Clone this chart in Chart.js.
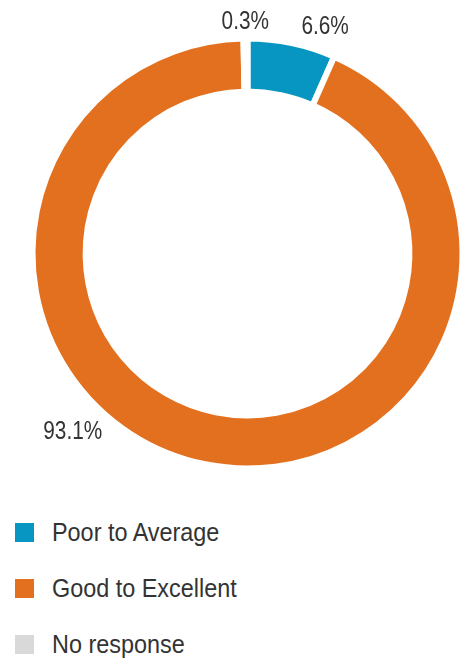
<!DOCTYPE html>
<html>
<head>
<meta charset="utf-8">
<script src="https://cdn.jsdelivr.net/npm/chart.js@4.4.1/dist/chart.umd.min.js"></script>
<style>
    html, body { margin: 0; padding: 0; background: #ffffff; }
    body { width: 468px; height: 661px; position: relative; overflow: hidden; }
    #chartBox { position: absolute; left: 0; top: 0; width: 468px; height: 480px; }
    #legend { position: absolute; left: 15px; top: 504px; }
    .item { display: flex; align-items: center; height: 56px; }
    .swatch { width: 19px; height: 19px; margin-right: 18px; flex: none; }
    .label { display: inline-block; font-family: "Liberation Sans", Arial, sans-serif;
             font-size: 26px; color: #333333; white-space: nowrap;
             transform: scaleX(0.9); transform-origin: left center; }
</style>
</head>
<body>
<div id="chartBox"><canvas id="ratingChart"></canvas></div>
<div id="legend"></div>
<script>
// Chart data
const categories = ['Poor to Average', 'Good to Excellent', 'No response'];
const shares = [6.6, 93.1, 0.3];
const colors = ['#0796c1', '#e3701f', '#d9d9d9'];

// where each percentage label sits, relative to the middle of its slice
const labelPlacement = [
    { turn: 7, gap: 28 },
    { turn: 33, gap: 38 },
    { turn: 0, gap: 20 }
];

/**
 * Draws the percentage text outside each slice (narrowed like the source font)
 */
const sliceLabels = {
    id: 'sliceLabels',
    afterDatasetsDraw(chart) {
        const ctx = chart.ctx;
        const arcs = chart.getDatasetMeta(0).data;
        arcs.forEach((arc, i) => {
            const p = labelPlacement[i];
            const mid = (arc.startAngle + arc.endAngle) / 2 + p.turn * Math.PI / 180;
            const r = arc.outerRadius - 3 + p.gap;
            const x = arc.x + Math.cos(mid) * r;
            const y = arc.y + Math.sin(mid) * r;
            ctx.save();
            ctx.translate(x, y);
            ctx.scale(0.8, 1);
            ctx.font = '26px "Liberation Sans", Arial, sans-serif';
            ctx.fillStyle = '#333333';
            ctx.textAlign = 'center';
            ctx.textBaseline = 'middle';
            ctx.fillText(shares[i].toFixed(1) + '%', 0, 0);
            ctx.restore();
        });
    }
};

new Chart(document.getElementById('ratingChart'), {
    type: 'doughnut',
    data: {
        labels: categories,
        datasets: [{
            data: shares,
            backgroundColor: colors,
            borderColor: '#ffffff',
            borderWidth: 6
        }]
    },
    options: {
        responsive: true,
        maintainAspectRatio: false,
        animation: false,
        cutout: '75.3%',
        layout: {
            padding: { left: 29.5, right: 2.5, top: 35.5, bottom: 8.5 }
        },
        plugins: {
            legend: { display: false },
            tooltip: { enabled: false }
        }
    },
    plugins: [sliceLabels]
});

// Legend built from the same arrays
const legend = document.getElementById('legend');
categories.forEach((name, i) => {
    const row = document.createElement('div');
    row.className = 'item';
    row.innerHTML = '<div class="swatch" style="background:' + colors[i] + '"></div>' +
        '<span class="label">' + name + '</span>';
    legend.appendChild(row);
});
</script>
</body>
</html>
